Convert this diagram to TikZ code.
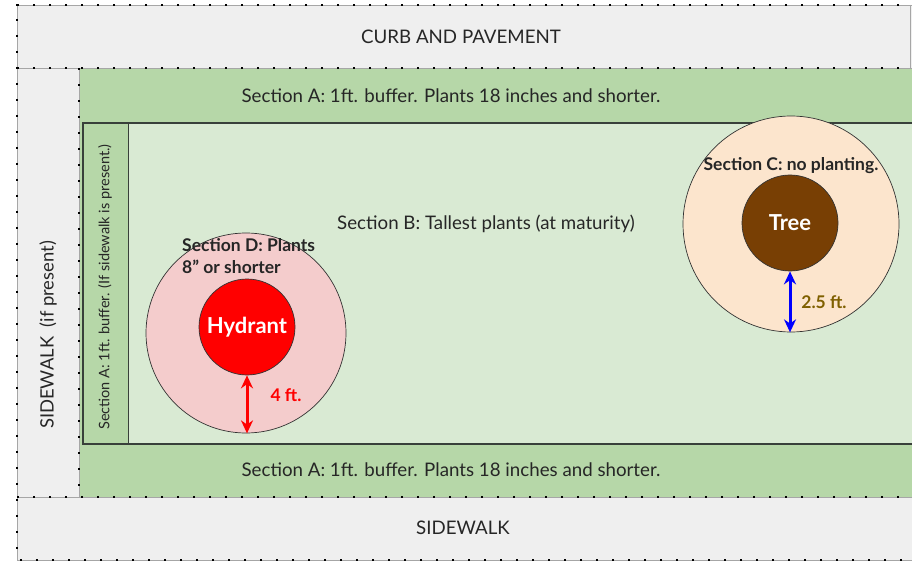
\documentclass[tikz,border=0pt]{standalone}
\usepackage{fontspec}
\setmainfont{Lato}
\usetikzlibrary{arrows.meta}
\definecolor{pave}{HTML}{EFEFEF}
\definecolor{bandA}{HTML}{B6D7A8}
\definecolor{zoneB}{HTML}{D9EAD3}
\definecolor{pinkD}{HTML}{F4CCCC}
\definecolor{peachC}{HTML}{FCE5CD}
\definecolor{hydred}{HTML}{FF0000}
\definecolor{treebrown}{HTML}{783F04}
\definecolor{olive}{HTML}{7F6000}
\definecolor{edge}{HTML}{38403A}
\tikzset{
  dotb/.style={draw=black, line width=2.3pt, dash pattern=on 2.3pt off 13.7pt},
  faint/.style={draw=black!35, line width=0.5pt},
  lbl/.style={font=\fontsize{18.7}{21}\selectfont, text=black!85, inner sep=0pt},
  bold/.style={font=\bfseries\fontsize{17.5}{22}\selectfont, text=black!85, inner sep=0pt},
  zone/.style={circle, draw=black!80, line width=0.7pt, inner sep=0pt},
  dim/.style={line width=3pt, {Stealth[length=13pt,width=12pt]}-{Stealth[length=13pt,width=12pt]}}
}
\begin{document}
\begin{tikzpicture}[x=1pt,y=-1pt]
\useasboundingbox (0,0) rectangle (912,561);
\clip (0,0) rectangle (912,561);
\fill[white] (0,0) rectangle (912,561);
% paved areas
\fill[pave] (17,5) rectangle (915,68);
\fill[pave] (17,68) rectangle (79,497);
\fill[pave] (17,497) rectangle (915,560);
% green bands
\fill[bandA] (79,68) rectangle (915,123);
\fill[bandA] (79,444) rectangle (915,497);
\fill[bandA] (79,123) rectangle (83,444);
\fill[zoneB] (83,123) rectangle (915,444);
\fill[bandA] (83,123) rectangle (128,444);
\draw[draw=edge, line width=0.8pt] (128,123) -- (128,444);
\draw[draw=edge, line width=1.4pt] (915,123) -- (83,123) -- (83,444) -- (915,444);
% dotted borders
\draw[faint] (17,5) -- (915,5) (17,5) -- (17,560) -- (915,560) (17,68) -- (915,68) (79,68) -- (79,497) (17,497) -- (915,497) (910,5) -- (910,68);
\draw[dotb] (915,5) -- (17,5) -- (17,560) -- (915,560);
\draw[dotb] (17,68) -- (915,68);
\draw[dotb] (17,497) -- (915,497);
\draw[dotb] (79,68) -- (79,497);
% zones
\node[zone, fill=pinkD, minimum size=200pt] (hydzone) at (246,333) {};
\node[zone, fill=hydred, minimum size=96pt] (hyd) at (247,327) {};
\node[zone, fill=peachC, minimum size=216pt] (treezone) at (791,224) {};
\node[zone, fill=treebrown, minimum size=96pt] (tree) at (790,223) {};
% texts
\node[lbl] (curb) at (461,37) {CURB AND PAVEMENT};
\node[lbl] (topA) at (451,96) {Section A: 1ft. buffer. Plants 18 inches and shorter.};
\node[lbl] (botA) at (451,470) {Section A: 1ft. buffer. Plants 18 inches and shorter.};
\node[lbl] (walk) at (463,528) {SIDEWALK};
\node[lbl, rotate=90, font=\fontsize{18.4}{21}\selectfont] (sidewalk) at (48,335) {SIDEWALK\ \ (if present)};
\node[lbl, rotate=90, font=\fontsize{14.5}{16}\selectfont] (leftA) at (105,287) {Section A: 1ft. buffer. (If sidewalk is present.)};
\node[lbl] (secB) at (486,224) {Section B: Tallest plants (at maturity)};
\node[bold, align=left, anchor=north west] (secD) at (182,238) {Section D: Plants\\8” or shorter};
\node[bold] (secC) at (791,166) {Section C: no planting.};
\node[bold, text=white, font=\bfseries\fontsize{22}{24}\selectfont] (treelbl) at (tree) {Tree};
\node[bold, text=white, font=\bfseries\fontsize{22}{24}\selectfont] (hydlbl) at (hyd) {Hydrant};
% dimension arrows
\draw[dim, hydred] (hyd.south) -- (hyd.south |- hydzone.south);
\draw[dim, blue] (tree.south) -- (tree.south |- treezone.south);
\node[bold, text=hydred] (fourft) at (286,395) {4 ft.};
\node[bold, text=olive] (twofive) at (824,302) {2.5 ft.};
\end{tikzpicture}
\end{document}
